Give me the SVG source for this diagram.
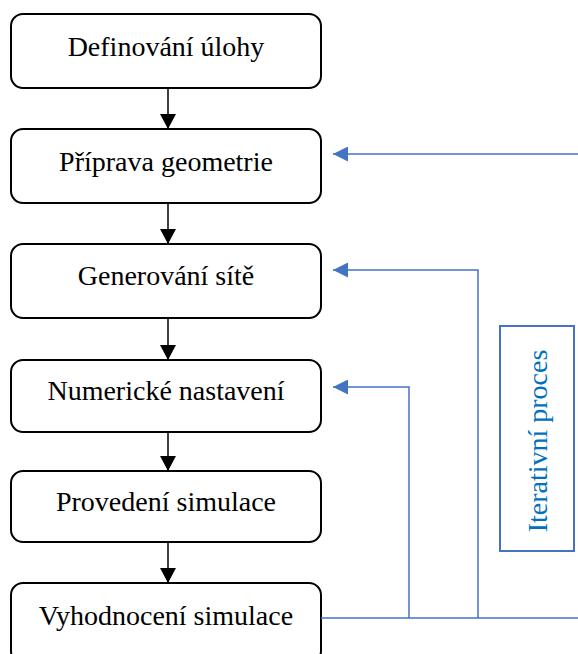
<svg xmlns="http://www.w3.org/2000/svg" width="578" height="654" viewBox="0 0 578 654">
<style>
.box{fill:#fff;stroke:#000;stroke-width:2}
.lbl{font-family:"Liberation Serif","Times New Roman",serif;font-size:28px;fill:#000;text-anchor:middle}
.blk{stroke:#000;stroke-width:1.5;fill:none}
.blu{stroke:#4472C4;stroke-width:1.5;fill:none}
.it{font-family:"Liberation Serif","Times New Roman",serif;font-size:28px;fill:#0070C0;text-anchor:middle}
</style>
<defs>
<marker id="ab" markerWidth="16" markerHeight="15" refX="8" refY="15" orient="0" markerUnits="userSpaceOnUse" viewBox="0 0 16 15"><path d="M0,0 L16,0 L8,15 Z" fill="#000"/></marker>
<marker id="au" markerWidth="15" markerHeight="15" refX="0" refY="7.5" orient="0" markerUnits="userSpaceOnUse" viewBox="0 0 15 15"><path d="M15,0 L15,15 L0,7.5 Z" fill="#4472C4"/></marker>
</defs>
<g id="n1"><rect class="box" x="11" y="14" width="310" height="74" rx="12"/><text class="lbl" x="166" y="56">Definování úlohy</text></g>
<g id="n2"><rect class="box" x="11" y="129" width="310" height="74" rx="12"/><text class="lbl" x="166" y="171">Příprava geometrie</text></g>
<g id="n3"><rect class="box" x="11" y="244" width="310" height="74" rx="12"/><text class="lbl" x="166" y="285">Generování sítě</text></g>
<g id="n4"><rect class="box" x="11" y="360" width="310" height="72" rx="12"/><text class="lbl" x="166" y="400">Numerické nastavení</text></g>
<g id="n5"><rect class="box" x="11" y="471" width="310" height="71" rx="12"/><text class="lbl" x="166" y="511">Provedení simulace</text></g>
<g id="n6"><rect class="box" x="11" y="583" width="310" height="80" rx="12"/><text class="lbl" x="166" y="625">Vyhodnocení simulace</text></g>
<g id="iter"><rect x="500" y="326" width="74" height="225" fill="#fff" stroke="#4472C4" stroke-width="2"/><text class="it" transform="translate(547,441) rotate(-90)">Iterativní proces</text></g>
<g id="connectors">
<line class="blk" x1="168" y1="88" x2="168" y2="129" marker-end="url(#ab)"/>
<line class="blk" x1="168" y1="203" x2="168" y2="244" marker-end="url(#ab)"/>
<line class="blk" x1="168" y1="318" x2="168" y2="360" marker-end="url(#ab)"/>
<line class="blk" x1="168" y1="432" x2="168" y2="471" marker-end="url(#ab)"/>
<line class="blk" x1="168" y1="542" x2="168" y2="583" marker-end="url(#ab)"/>
<polyline class="blu" points="321,618 578,618"/>
<polyline class="blu" points="578,154 333,154" marker-end="url(#au)"/>
<polyline class="blu" points="478,618 478,270 333,270" marker-end="url(#au)"/>
<polyline class="blu" points="409,618 409,387 333,387" marker-end="url(#au)"/>
</g>
</svg>
